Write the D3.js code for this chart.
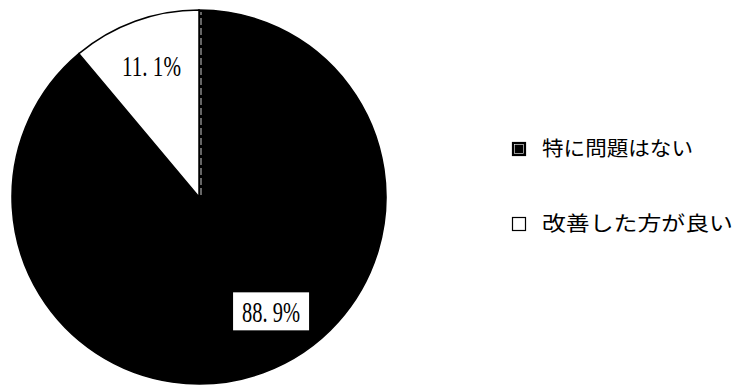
<!DOCTYPE html>
<html>
<head>
<meta charset="utf-8">
<script src="https://cdn.jsdelivr.net/npm/d3@7"></script>
<style>
  html, body { margin: 0; padding: 0; background: #fff; }
  svg { display: block; }
</style>
</head>
<body>
<svg id="chart" width="734" height="385"></svg>
<script>
// Survey answers and their shares (percent)
const categories = ["特に問題はない", "改善した方が良い"];
const values = [88.9, 11.1];
const valueLabels = ["88. 9%", "11. 1%"];
const fills = ["#000000", "#ffffff"];

const svg = d3.select("#chart");
const cx = 199, cy = 197, radius = 187;

const pie = d3.pie().sort(null).startAngle(0).endAngle(2 * Math.PI);
const arcs = pie(values);
const arc = d3.arc().innerRadius(0).outerRadius(radius);

const g = svg.append("g").attr("transform", `translate(${cx},${cy})`);

g.selectAll("path.slice")
  .data(arcs)
  .join("path")
  .attr("class", "slice")
  .attr("d", arc)
  .attr("fill", (d, i) => fills[i])
  .attr("stroke", "#000")
  .attr("stroke-width", 1.5);

// thin broken seam along the 12 o'clock edge of the dark slice
g.append("line")
  .attr("x1", 2).attr("y1", -2)
  .attr("x2", 2).attr("y2", -radius + 2)
  .attr("stroke", "#fff")
  .attr("stroke-width", 0.8)
  .attr("stroke-dasharray", "7,3");

// value labels (polar position: angle in degrees clockwise from top, radius)
const labelPos = [{ a: 148, r: 136 }, { a: -20, r: 139 }];
const labelW = [58, 59];

valueLabels.forEach((t, i) => {
  const a = labelPos[i].a * Math.PI / 180;
  const x = Math.sin(a) * labelPos[i].r;
  const y = -Math.cos(a) * labelPos[i].r;
  if (fills[i] === "#000000") {
    g.append("rect")
      .attr("x", x - 38).attr("y", y - 20)
      .attr("width", 76).attr("height", 38)
      .attr("fill", "#fff");
  }
  g.append("text")
    .attr("x", x).attr("y", y + 10)
    .attr("text-anchor", "middle")
    .attr("font-family", "Liberation Serif, DejaVu Serif, serif")
    .attr("font-size", 30)
    .attr("textLength", labelW[i])
    .attr("lengthAdjust", "spacingAndGlyphs")
    .attr("fill", "#000")
    .text(t);
});

// legend
const legend = svg.append("g").attr("transform", "translate(512,142)");
const legendRow = 75;
const legendTextW = [151, 191];

categories.forEach((c, i) => {
  const row = legend.append("g").attr("transform", `translate(0,${i * legendRow})`);
  row.append("rect")
    .attr("x", 0.5).attr("y", 0.5)
    .attr("width", 13).attr("height", 13)
    .attr("fill", fills[i])
    .attr("stroke", "#000")
    .attr("stroke-width", 1.2);
  if (fills[i] === "#000000") {
    row.append("rect")
      .attr("x", 2.5).attr("y", 2.5)
      .attr("width", 9).attr("height", 9)
      .attr("fill", "none")
      .attr("stroke", "#fff")
      .attr("stroke-width", 0.6);
  }
  row.append("text")
    .attr("x", 30).attr("y", 14)
    .attr("font-family", "Noto Sans CJK JP, sans-serif")
    .attr("font-size", 20)
    .attr("textLength", legendTextW[i])
    .attr("lengthAdjust", "spacingAndGlyphs")
    .attr("fill", "#000")
    .text(c);
});
</script>
</body>
</html>
